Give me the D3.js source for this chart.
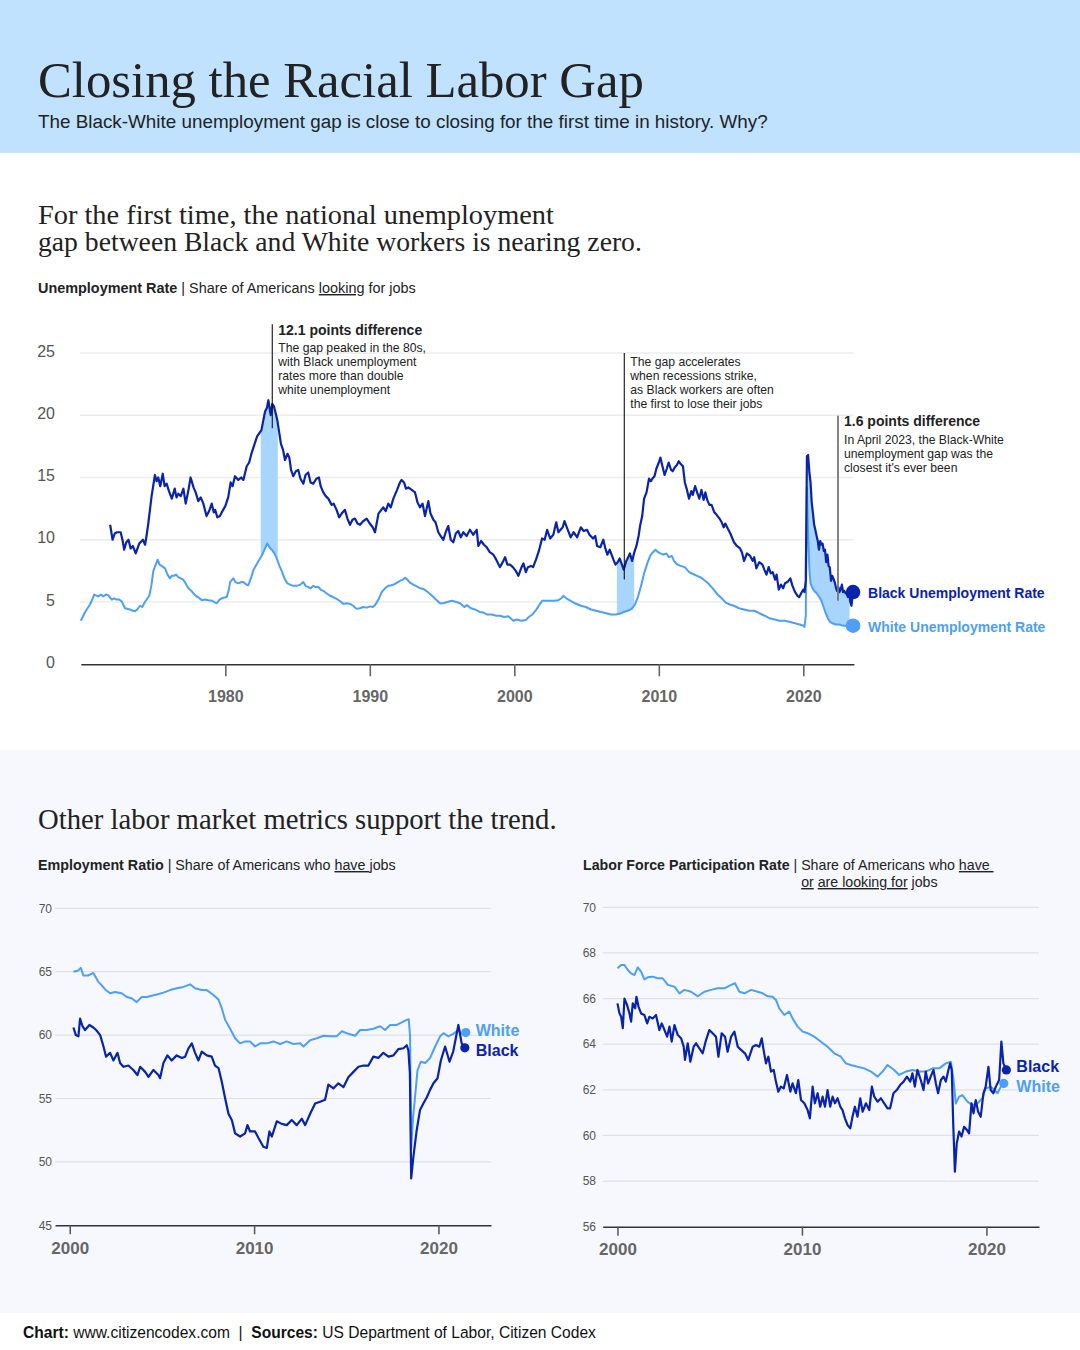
<!DOCTYPE html>
<html>
<head>
<meta charset="utf-8">
<script src="https://cdn.jsdelivr.net/npm/d3@7"></script>
<style>
  body { margin: 0; background: #fff; }
  svg { display: block; font-family: "Liberation Sans", Arial, sans-serif; }
</style>
</head>
<body>
<div id="chart"></div>
<script>
// ---- data ----
// [decimal year, rate]
var blackUnemp = [[1972.03,11.2],[1972.2,10.0],[1972.35,10.5],[1972.5,10.6],[1972.76,10.6],[1972.9,9.9],[1973.0,9.2],[1973.15,9.8],[1973.3,10.0],[1973.45,9.3],[1973.6,9.5],[1973.8,8.9],[1974.05,9.7],[1974.3,10.0],[1974.45,9.6],[1974.56,10.4],[1974.67,11.3],[1974.9,13.5],[1975.13,15.2],[1975.25,14.7],[1975.36,15.0],[1975.5,14.3],[1975.67,15.3],[1975.8,14.3],[1975.94,14.5],[1976.1,13.9],[1976.3,13.3],[1976.5,14.1],[1976.62,13.4],[1976.75,13.7],[1976.92,13.5],[1977.1,14.1],[1977.26,12.9],[1977.45,14.0],[1977.6,15.0],[1977.8,14.2],[1977.95,13.8],[1978.13,13.1],[1978.3,13.4],[1978.48,12.9],[1978.7,11.9],[1978.88,12.3],[1979.06,12.9],[1979.2,12.2],[1979.3,12.4],[1979.45,11.8],[1979.63,11.9],[1979.8,12.3],[1980.0,12.7],[1980.2,13.4],[1980.37,14.6],[1980.5,14.3],[1980.67,15.1],[1980.9,14.8],[1981.1,15.0],[1981.25,14.8],[1981.48,15.9],[1981.65,16.2],[1981.83,17.0],[1982.0,17.6],[1982.2,18.3],[1982.5,18.8],[1982.6,19.4],[1982.75,20.3],[1982.88,20.6],[1982.98,21.2],[1983.14,20.0],[1983.25,20.9],[1983.37,20.7],[1983.5,20.1],[1983.6,19.6],[1983.85,17.7],[1984.0,17.2],[1984.13,16.4],[1984.3,16.9],[1984.43,16.6],[1984.55,15.6],[1984.7,15.1],[1984.88,15.5],[1985.05,15.6],[1985.2,14.9],[1985.4,14.5],[1985.55,15.2],[1985.74,15.4],[1985.9,14.6],[1986.09,14.5],[1986.3,14.9],[1986.48,15.0],[1986.6,14.3],[1986.78,13.8],[1986.95,13.5],[1987.13,13.3],[1987.36,12.8],[1987.5,12.9],[1987.7,12.4],[1987.88,11.8],[1988.05,12.1],[1988.28,12.4],[1988.45,11.7],[1988.63,11.2],[1988.8,11.6],[1988.97,11.7],[1989.15,11.3],[1989.32,11.2],[1989.55,11.5],[1989.78,11.7],[1990.0,11.3],[1990.2,11.0],[1990.36,10.6],[1990.6,12.1],[1990.93,12.6],[1991.1,12.3],[1991.28,12.9],[1991.45,12.6],[1991.63,13.3],[1991.85,13.9],[1992.09,14.6],[1992.2,14.8],[1992.37,14.6],[1992.5,14.1],[1992.66,14.2],[1992.9,14.0],[1993.13,13.8],[1993.3,13.0],[1993.47,12.6],[1993.65,12.9],[1993.82,11.9],[1994.05,13.1],[1994.2,12.1],[1994.4,11.6],[1994.55,11.4],[1994.74,10.6],[1994.9,10.3],[1995.09,10.0],[1995.25,10.6],[1995.43,11.1],[1995.6,10.0],[1995.78,9.8],[1995.95,10.5],[1996.12,10.7],[1996.3,10.2],[1996.47,10.6],[1996.7,10.3],[1996.93,10.8],[1997.15,10.4],[1997.4,10.8],[1997.51,9.5],[1997.7,9.9],[1997.9,9.6],[1998.09,9.4],[1998.3,9.0],[1998.55,8.8],[1998.75,8.4],[1999.0,7.8],[1999.2,8.2],[1999.36,8.6],[1999.52,8.0],[1999.7,8.0],[1999.9,7.8],[2000.1,7.5],[2000.28,7.1],[2000.5,7.8],[2000.63,8.1],[2000.8,7.4],[2000.94,7.8],[2001.15,7.9],[2001.3,7.8],[2001.5,8.4],[2001.7,9.1],[2001.92,10.1],[2002.1,10.0],[2002.27,10.8],[2002.48,10.1],[2002.7,10.4],[2002.9,11.4],[2003.05,10.6],[2003.2,10.8],[2003.35,11.0],[2003.47,11.5],[2003.7,10.8],[2003.9,10.2],[2004.1,10.6],[2004.35,10.2],[2004.6,11.0],[2004.8,10.7],[2005.03,10.8],[2005.2,10.4],[2005.45,10.1],[2005.6,10.3],[2005.73,9.5],[2005.95,9.4],[2006.16,10.0],[2006.3,9.3],[2006.44,8.8],[2006.6,9.2],[2006.86,8.4],[2007.0,8.0],[2007.15,8.2],[2007.29,8.5],[2007.45,8.0],[2007.57,7.6],[2007.75,8.3],[2007.88,8.6],[2008.0,8.9],[2008.15,8.3],[2008.28,8.9],[2008.45,9.5],[2008.6,10.3],[2008.7,11.1],[2008.85,11.9],[2008.98,13.3],[2009.15,13.8],[2009.32,14.9],[2009.45,14.7],[2009.55,14.9],[2009.7,15.1],[2009.83,15.7],[2010.0,16.2],[2010.11,16.6],[2010.25,15.9],[2010.4,15.2],[2010.55,15.7],[2010.68,16.2],[2010.85,15.6],[2010.96,15.5],[2011.1,15.8],[2011.25,16.0],[2011.38,16.3],[2011.5,16.1],[2011.67,15.9],[2011.8,14.6],[2011.95,14.0],[2012.09,13.3],[2012.25,13.9],[2012.35,13.6],[2012.51,14.3],[2012.65,13.8],[2012.8,13.3],[2012.95,14.0],[2013.1,13.2],[2013.22,13.8],[2013.35,13.2],[2013.5,12.8],[2013.65,12.8],[2013.84,12.2],[2014.0,12.0],[2014.2,11.7],[2014.35,11.4],[2014.49,11.0],[2014.6,11.3],[2014.77,10.9],[2014.95,10.5],[2015.2,9.8],[2015.4,9.5],[2015.62,9.3],[2015.75,9.0],[2015.9,8.3],[2016.1,8.9],[2016.32,8.7],[2016.5,8.3],[2016.6,8.6],[2016.75,7.7],[2016.95,8.2],[2017.17,8.0],[2017.3,7.6],[2017.45,7.2],[2017.6,7.8],[2017.75,7.3],[2017.88,7.4],[2018.05,6.8],[2018.15,7.2],[2018.3,6.0],[2018.45,6.4],[2018.6,6.1],[2018.73,6.5],[2018.9,6.6],[2019.1,6.9],[2019.25,6.3],[2019.43,5.8],[2019.6,5.5],[2019.72,5.4],[2019.85,5.7],[2020.0,6.0],[2020.08,5.8],[2020.17,6.7],[2020.25,16.7],[2020.33,16.8],[2020.42,15.4],[2020.5,14.6],[2020.58,13.0],[2020.67,12.1],[2020.75,11.2],[2020.83,10.8],[2020.92,10.3],[2021.0,9.9],[2021.08,9.2],[2021.17,9.9],[2021.25,9.6],[2021.33,9.7],[2021.42,9.1],[2021.5,9.2],[2021.58,8.2],[2021.67,8.8],[2021.75,7.9],[2021.83,7.8],[2021.92,6.7],[2022.0,7.1],[2022.08,6.9],[2022.17,6.6],[2022.25,6.2],[2022.33,5.9],[2022.42,6.2],[2022.5,5.8],[2022.58,6.0],[2022.67,6.4],[2022.75,5.8],[2022.83,5.9],[2022.92,5.7],[2023.0,5.7],[2023.08,5.4],[2023.17,5.7],[2023.25,5.0],[2023.33,4.7],[2023.44,5.8]];

var whiteUnemp = [[1970.0,3.5],[1970.3,4.2],[1970.64,4.8],[1970.93,5.6],[1971.2,5.45],[1971.4,5.6],[1971.56,5.45],[1971.75,5.6],[1971.9,5.55],[1972.14,5.2],[1972.3,5.3],[1972.48,5.2],[1972.65,5.2],[1972.83,5.05],[1973.06,4.5],[1973.4,4.4],[1973.6,4.3],[1973.75,4.25],[1973.9,4.4],[1974.1,4.7],[1974.25,4.6],[1974.44,5.0],[1974.74,5.5],[1974.88,6.3],[1975.02,7.5],[1975.15,7.9],[1975.32,8.4],[1975.45,8.0],[1975.6,7.9],[1975.83,7.7],[1976.0,7.2],[1976.17,6.9],[1976.3,7.1],[1976.45,7.1],[1976.6,7.2],[1976.75,7.0],[1977.09,6.8],[1977.25,6.5],[1977.44,6.1],[1977.65,5.9],[1977.9,5.55],[1978.1,5.4],[1978.37,5.15],[1978.6,5.2],[1978.83,5.15],[1979.1,5.1],[1979.4,4.9],[1979.6,5.2],[1979.75,5.3],[1980.1,5.4],[1980.25,6.0],[1980.33,6.6],[1980.55,6.9],[1980.7,6.6],[1980.9,6.5],[1981.1,6.6],[1981.25,6.6],[1981.45,6.4],[1981.59,6.35],[1981.8,7.0],[1981.94,7.55],[1982.2,8.1],[1982.4,8.5],[1982.6,8.9],[1982.75,9.3],[1982.9,9.7],[1983.05,9.4],[1983.21,9.2],[1983.4,8.9],[1983.56,8.5],[1983.75,7.9],[1983.9,7.5],[1984.13,6.8],[1984.3,6.5],[1984.48,6.4],[1984.7,6.3],[1984.94,6.3],[1985.2,6.4],[1985.4,6.6],[1985.55,6.3],[1985.74,6.2],[1985.9,6.1],[1986.09,6.3],[1986.25,6.2],[1986.43,6.2],[1986.6,6.0],[1986.78,5.9],[1987.0,5.7],[1987.24,5.5],[1987.45,5.4],[1987.7,5.25],[1987.9,5.1],[1988.17,4.85],[1988.4,4.9],[1988.63,4.85],[1988.85,4.7],[1989.09,4.45],[1989.3,4.5],[1989.55,4.6],[1989.8,4.55],[1990.01,4.65],[1990.2,4.6],[1990.36,4.75],[1990.6,5.2],[1990.82,5.8],[1991.05,6.1],[1991.28,6.3],[1991.5,6.35],[1991.74,6.45],[1992.09,6.7],[1992.3,6.8],[1992.44,6.95],[1992.6,6.8],[1992.78,6.55],[1993.0,6.4],[1993.25,6.25],[1993.5,6.1],[1993.7,6.05],[1993.9,5.9],[1994.17,5.65],[1994.4,5.4],[1994.63,5.15],[1994.86,4.9],[1995.09,4.9],[1995.35,5.0],[1995.67,5.1],[1995.99,5.0],[1996.24,4.9],[1996.55,4.6],[1996.71,4.75],[1997.0,4.5],[1997.28,4.4],[1997.6,4.2],[1997.86,4.15],[1998.1,4.0],[1998.43,4.0],[1998.75,3.9],[1999.01,3.9],[1999.3,3.8],[1999.59,3.85],[1999.94,3.5],[2000.17,3.6],[2000.5,3.5],[2000.79,3.55],[2001.0,3.8],[2001.25,4.0],[2001.5,4.35],[2001.75,4.8],[2001.92,5.1],[2002.2,5.1],[2002.48,5.1],[2002.75,5.1],[2003.05,5.15],[2003.25,5.3],[2003.39,5.5],[2003.6,5.3],[2003.9,5.1],[2004.2,4.9],[2004.6,4.7],[2004.95,4.6],[2005.31,4.4],[2005.65,4.3],[2006.01,4.2],[2006.35,4.1],[2006.72,4.0],[2007.0,4.0],[2007.29,4.05],[2007.57,4.2],[2007.85,4.3],[2008.13,4.45],[2008.35,4.8],[2008.55,5.4],[2008.75,6.2],[2008.98,7.3],[2009.2,8.1],[2009.4,8.7],[2009.6,9.0],[2009.77,9.2],[2009.95,9.0],[2010.11,8.9],[2010.3,8.8],[2010.53,8.9],[2010.7,8.6],[2010.9,8.7],[2011.05,8.3],[2011.24,8.05],[2011.5,7.9],[2011.8,7.8],[2012.1,7.4],[2012.37,7.25],[2012.65,7.1],[2012.94,6.95],[2013.2,6.7],[2013.5,6.4],[2013.8,6.0],[2014.07,5.6],[2014.35,5.3],[2014.63,4.95],[2014.9,4.8],[2015.2,4.7],[2015.55,4.5],[2015.9,4.4],[2016.25,4.3],[2016.61,4.3],[2016.95,4.1],[2017.32,3.9],[2017.65,3.7],[2018.02,3.6],[2018.35,3.5],[2018.73,3.5],[2019.1,3.4],[2019.43,3.3],[2019.75,3.2],[2020.0,3.1],[2020.08,3.0],[2020.17,3.9],[2020.25,14.2],[2020.33,10.5],[2020.42,7.6],[2020.5,6.5],[2020.6,6.2],[2020.75,5.9],[2020.92,5.7],[2021.1,5.4],[2021.25,5.1],[2021.4,4.6],[2021.55,4.1],[2021.7,3.7],[2021.85,3.4],[2022.0,3.3],[2022.25,3.2],[2022.5,3.2],[2022.75,3.1],[2023.0,3.1],[2023.2,3.2],[2023.44,3.1]];

var gapPeriods = [[1982.45, 1983.63], [2007.1, 2008.3], [2020.3, 2023.2]];
var unempYTicks = [0, 5, 10, 15, 20, 25];
var unempXTicks = [1980, 1990, 2000, 2010, 2020];

var whiteEmp = [[2000.2,65.0],[2000.47,65.1],[2000.6,65.3],[2000.74,64.7],[2001.0,64.7],[2001.28,64.9],[2001.55,64.2],[2001.75,63.9],[2001.92,63.6],[2002.19,63.3],[2002.46,63.4],[2002.82,63.3],[2003.1,63.0],[2003.36,62.9],[2003.63,62.6],[2003.9,63.0],[2004.18,63.0],[2004.45,63.1],[2004.72,63.2],[2005.08,63.35],[2005.44,63.55],[2005.8,63.7],[2006.17,63.8],[2006.53,64.0],[2006.8,63.7],[2007.16,63.55],[2007.43,63.55],[2007.76,63.2],[2008.07,62.8],[2008.25,62.1],[2008.43,61.2],[2008.7,60.5],[2008.97,59.75],[2009.24,59.35],[2009.51,59.5],[2009.78,59.5],[2010.05,59.1],[2010.33,59.35],[2010.69,59.35],[2011.05,59.5],[2011.41,59.3],[2011.77,59.5],[2012.13,59.3],[2012.5,59.35],[2012.68,59.1],[2013.04,59.6],[2013.4,59.75],[2013.76,59.95],[2014.12,59.9],[2014.48,59.9],[2014.76,60.3],[2015.12,60.1],[2015.48,59.95],[2015.75,60.4],[2016.11,60.4],[2016.47,60.5],[2016.84,60.7],[2017.1,60.4],[2017.38,60.8],[2017.74,60.8],[2018.01,61.0],[2018.28,61.2],[2018.39,61.25],[2018.46,59.9],[2018.52,51.0],[2018.62,53.5],[2018.73,55.1],[2018.86,57.2],[2019.04,57.9],[2019.28,57.8],[2019.55,58.2],[2019.82,59.1],[2020.09,59.9],[2020.27,60.15],[2020.54,59.9],[2020.8,60.1],[2021.08,60.4],[2021.26,60.1],[2021.48,60.2]];

var blackEmp = [[2000.2,60.6],[2000.33,60.0],[2000.47,59.9],[2000.56,61.3],[2000.69,60.7],[2000.83,60.4],[2001.07,60.8],[2001.28,60.6],[2001.43,60.4],[2001.65,60.0],[2001.83,59.1],[2001.97,58.3],[2002.19,58.6],[2002.37,58.0],[2002.59,58.6],[2002.73,57.8],[2002.91,57.5],[2003.18,57.6],[2003.45,57.25],[2003.67,56.85],[2003.82,57.5],[2004.09,57.1],[2004.27,56.7],[2004.54,57.25],[2004.81,56.85],[2004.9,56.6],[2005.08,57.8],[2005.3,58.4],[2005.53,58.0],[2005.8,58.4],[2006.08,58.2],[2006.26,58.3],[2006.44,58.96],[2006.62,59.35],[2006.8,58.6],[2006.98,58.0],[2007.16,58.7],[2007.43,58.4],[2007.7,58.3],[2007.88,57.6],[2008.07,57.4],[2008.25,56.3],[2008.43,55.0],[2008.61,53.8],[2008.79,53.3],[2008.97,52.25],[2009.24,52.0],[2009.51,52.25],[2009.64,52.9],[2009.78,52.4],[2010.05,52.4],[2010.23,51.9],[2010.5,51.2],[2010.69,51.1],[2010.83,52.4],[2010.96,52.0],[2011.23,53.2],[2011.5,53.0],[2011.77,52.9],[2012.04,53.3],[2012.31,52.9],[2012.59,53.4],[2012.77,52.9],[2013.04,53.8],[2013.31,54.6],[2013.58,54.75],[2013.85,54.9],[2014.03,56.1],[2014.3,55.8],[2014.57,56.2],[2014.85,55.9],[2015.12,56.7],[2015.39,57.1],[2015.66,57.5],[2015.93,57.6],[2016.2,57.6],[2016.47,58.3],[2016.74,58.2],[2017.01,58.6],[2017.29,58.3],[2017.56,58.4],[2017.83,58.9],[2018.1,58.96],[2018.28,59.2],[2018.37,58.8],[2018.45,57.0],[2018.52,48.7],[2018.64,50.4],[2018.82,52.5],[2019.0,54.1],[2019.18,54.6],[2019.37,55.1],[2019.55,55.7],[2019.73,56.2],[2019.95,56.6],[2020.13,58.0],[2020.36,59.1],[2020.6,57.9],[2020.8,58.7],[2021.08,60.8],[2021.26,59.35],[2021.43,59.0]];
var empYTicks = [45, 50, 55, 60, 65, 70];

var whiteLfp = [[2000.0,67.33],[2000.2,67.47],[2000.38,67.47],[2000.56,67.25],[2000.74,67.1],[2000.92,67.03],[2001.1,67.37],[2001.28,67.18],[2001.46,66.84],[2001.64,66.93],[2001.91,66.96],[2002.18,66.89],[2002.45,66.89],[2002.73,66.6],[2003.09,66.52],[2003.36,66.23],[2003.63,66.38],[2003.99,66.3],[2004.35,66.1],[2004.71,66.3],[2005.07,66.38],[2005.43,66.45],[2005.79,66.45],[2006.16,66.6],[2006.37,66.67],[2006.61,66.3],[2006.88,66.23],[2007.24,66.38],[2007.6,66.3],[2007.87,66.23],[2008.14,66.1],[2008.41,66.08],[2008.59,65.94],[2008.77,65.57],[2009.04,65.28],[2009.31,65.43],[2009.49,65.13],[2009.77,64.77],[2010.04,64.55],[2010.31,64.48],[2010.67,64.33],[2011.03,64.11],[2011.39,63.89],[2011.75,63.6],[2012.11,63.45],[2012.38,63.16],[2012.65,63.09],[2013.01,63.01],[2013.38,62.94],[2013.74,62.8],[2014.1,62.58],[2014.37,62.8],[2014.64,63.09],[2015.0,62.87],[2015.27,62.65],[2015.63,62.8],[2015.99,62.87],[2016.35,62.8],[2016.71,62.8],[2017.08,62.94],[2017.44,62.94],[2017.8,63.16],[2018.07,63.23],[2018.2,62.58],[2018.34,61.4],[2018.52,61.7],[2018.7,61.77],[2018.97,61.48],[2019.24,61.33],[2019.51,61.4],[2019.78,61.63],[2019.96,62.06],[2020.23,62.14],[2020.42,61.99],[2020.6,61.85],[2020.78,62.14],[2020.94,62.28]];

var blackLfp = [[2000.0,65.79],[2000.11,65.35],[2000.2,65.2],[2000.29,64.7],[2000.38,66.0],[2000.52,65.72],[2000.65,65.35],[2000.74,64.99],[2000.83,65.79],[2000.96,65.57],[2001.03,66.08],[2001.14,65.65],[2001.28,65.35],[2001.46,65.28],[2001.61,64.91],[2001.73,65.2],[2001.91,65.13],[2002.09,65.28],[2002.27,64.62],[2002.4,64.91],[2002.55,64.62],[2002.69,64.33],[2002.82,64.77],[2002.94,64.11],[2003.09,64.84],[2003.27,64.4],[2003.45,64.26],[2003.59,63.89],[2003.66,63.31],[2003.81,64.04],[2003.95,63.23],[2004.13,63.89],[2004.26,64.04],[2004.44,63.82],[2004.62,63.6],[2004.8,64.18],[2004.98,64.62],[2005.16,64.48],[2005.34,64.33],[2005.47,63.45],[2005.65,64.48],[2005.83,64.33],[2005.97,63.67],[2006.16,64.33],[2006.34,64.55],[2006.52,63.89],[2006.7,63.75],[2006.91,63.6],[2007.09,63.31],[2007.33,63.89],[2007.51,63.96],[2007.69,63.89],[2007.82,64.26],[2007.92,63.75],[2008.05,63.16],[2008.18,63.45],[2008.32,62.8],[2008.47,62.87],[2008.59,62.36],[2008.72,61.92],[2008.86,62.14],[2009.01,62.06],[2009.19,62.65],[2009.37,61.92],[2009.49,62.28],[2009.67,61.85],[2009.8,62.43],[2009.95,61.55],[2010.13,61.41],[2010.31,61.11],[2010.43,60.75],[2010.58,62.14],[2010.7,61.41],[2010.85,61.85],[2010.99,61.26],[2011.12,61.7],[2011.25,61.26],[2011.39,61.99],[2011.53,61.26],[2011.66,61.7],[2011.79,61.41],[2011.93,61.63],[2012.08,61.26],[2012.2,61.11],[2012.33,60.75],[2012.47,60.46],[2012.62,60.31],[2012.74,60.82],[2012.87,61.26],[2013.01,60.82],[2013.16,61.63],[2013.29,61.04],[2013.47,61.41],[2013.65,61.11],[2013.79,62.14],[2013.92,61.7],[2014.1,61.48],[2014.28,61.63],[2014.46,61.41],[2014.64,61.19],[2014.78,61.19],[2014.96,61.85],[2015.14,61.99],[2015.32,62.21],[2015.51,62.36],[2015.69,62.58],[2015.87,62.36],[2015.99,62.72],[2016.12,62.14],[2016.26,62.87],[2016.44,62.43],[2016.59,61.99],[2016.71,62.8],[2016.84,62.28],[2016.98,62.58],[2017.13,62.87],[2017.26,62.28],[2017.38,61.85],[2017.53,62.43],[2017.67,62.58],[2017.8,62.36],[2017.92,62.8],[2018.03,63.16],[2018.12,62.87],[2018.2,60.53],[2018.29,58.41],[2018.39,59.65],[2018.52,60.17],[2018.65,59.95],[2018.79,60.38],[2018.94,60.24],[2019.06,60.09],[2019.19,61.41],[2019.3,60.97],[2019.42,61.55],[2019.55,61.04],[2019.69,60.82],[2019.84,61.85],[2019.96,62.14],[2020.11,63.01],[2020.23,61.99],[2020.38,61.85],[2020.51,62.14],[2020.69,62.43],[2020.81,64.11],[2020.92,63.16],[2021.08,62.87]];
var lfpYTicks = [56, 58, 60, 62, 64, 66, 68, 70];
var smallXTicks = [2000, 2010, 2020];

var notes = [
  { t: 1983.25, top: 27.3, bottom: 18.95, title: "12.1 points difference",
    lines: ["The gap peaked in the 80s,", "with Black unemployment", "rates more than double", "white unemployment"] },
  { t: 2007.61, top: 25.0, bottom: 6.8, title: null,
    lines: ["The gap accelerates", "when recessions strike,", "as Black workers are often", "the first to lose their jobs"] },
  { t: 2022.4, top: 19.95, bottom: 5.1, title: "1.6 points difference", grey: true,
    lines: ["In April 2023, the Black-White", "unemployment gap was the", "closest it's ever been"] }
];

var dark = "#0a23ad", light = "#4d9ffa", bandFill = "#a8d5fd", ink = "#222";

// shrink/grow a text (or tspan) so it spans the given width
function fit(sel, w) {
  var fs = parseFloat(sel.attr("font-size"));
  var len = sel.node().getComputedTextLength();
  sel.attr("font-size", fs * w / len);
}

var svg = d3.select("#chart").append("svg")
    .attr("width", 1080)
    .attr("height", 1350);

// backgrounds
svg.append("rect").attr("width", 1080).attr("height", 153).attr("fill", "#c0e2fe");
svg.append("rect").attr("y", 750).attr("width", 1080).attr("height", 563).attr("fill", "#f6f8fe");

// header
var title = svg.append("text").attr("x", 38).attr("y", 97)
    .attr("font-family", "'Liberation Serif', serif").attr("font-size", 50)
    .attr("fill", ink).text("Closing the Racial Labor Gap");
fit(title, 606);
var sub = svg.append("text").attr("x", 38).attr("y", 128)
    .attr("font-size", 17).attr("fill", ink)
    .text("The Black-White unemployment gap is close to closing for the first time in history. Why?");
fit(sub, 730);

// two-line heading kept in one text element
var h1 = svg.append("text")
    .attr("font-family", "'Liberation Serif', serif").attr("fill", ink);
var h1a = h1.append("tspan").attr("x", 38).attr("y", 224).attr("font-size", 26)
    .text("For the first time, the national unemployment");
var h1b = h1.append("tspan").attr("x", 38).attr("y", 251).attr("font-size", 26)
    .text("gap between Black and White workers is nearing zero.");
fit(h1b, 604);
fit(h1a, 516);

var t1 = svg.append("text").attr("x", 38).attr("y", 293).attr("font-size", 14).attr("fill", ink)
    .style("white-space", "pre");
t1.append("tspan").attr("font-weight", "bold").text("Unemployment Rate");
t1.append("tspan").text(" | Share of Americans ");
t1.append("tspan").attr("text-decoration", "underline").text("looking");
t1.append("tspan").text(" for jobs");
fit(t1, 378);

// ---- main chart ----
var x = d3.scaleLinear().domain([1970, 2023.5]).range([80.8, 853.9]);
var y = d3.scaleLinear().domain([0, 25]).range([664.3, 352.9]);

var main = svg.append("g");

main.selectAll(".grid")
    .data(unempYTicks.filter(function(d) { return d > 0; }))
    .enter().append("line")
    .attr("class", "grid")
    .attr("x1", 80).attr("x2", 853.3)
    .attr("y1", function(d) { return y(d); })
    .attr("y2", function(d) { return y(d); })
    .attr("stroke", "#ececec").attr("stroke-width", 1.5);

// shaded gaps between the two lines
var defs = svg.append("defs");
gapPeriods.forEach(function(p, i) {
  defs.append("clipPath").attr("id", "gap" + i).append("rect")
      .attr("x", x(p[0])).attr("width", x(p[1]) - x(p[0]))
      .attr("y", 0).attr("height", 1350);
});
var line = d3.line().x(function(d) { return x(d[0]); }).y(function(d) { return y(d[1]); });
var between = line(blackUnemp) + line(whiteUnemp.slice().reverse()).replace("M", "L") + "Z";
gapPeriods.forEach(function(p, i) {
  main.append("path").attr("d", between).attr("fill", bandFill)
      .attr("clip-path", "url(#gap" + i + ")");
});

// x axis
var xAxis = main.append("g")
    .attr("transform", "translate(0," + y(0) + ")")
    .call(d3.axisBottom(x).tickValues(unempXTicks).tickFormat(d3.format("d")).tickSize(12).tickSizeOuter(0));
xAxis.select(".domain").attr("stroke", "#333").attr("stroke-width", 1.5);
xAxis.selectAll(".tick line").attr("stroke", "#666").attr("stroke-width", 1.6);
xAxis.selectAll(".tick text").attr("y", 26).attr("font-size", 16).attr("font-weight", "bold")
    .attr("font-family", "'Liberation Sans', Arial, sans-serif").attr("fill", "#666");

// y labels
var yAxis = main.append("g")
    .attr("transform", "translate(55,-2)")
    .call(d3.axisLeft(y).tickValues(unempYTicks).tickSize(0).tickPadding(0));
yAxis.select(".domain").remove();
yAxis.selectAll(".tick text").attr("font-size", 16)
    .attr("font-family", "'Liberation Sans', Arial, sans-serif").attr("fill", "#555");

main.append("path").attr("d", line(whiteUnemp)).attr("fill", "none")
    .attr("stroke", light).attr("stroke-width", 2).attr("stroke-linejoin", "round");
main.append("path").attr("d", line(blackUnemp)).attr("fill", "none")
    .attr("stroke", dark).attr("stroke-width", 2.2).attr("stroke-linejoin", "round");

// annotations
notes.forEach(function(n) {
  var nx = x(n.t);
  main.append("line").attr("x1", nx).attr("x2", nx)
      .attr("y1", y(n.top)).attr("y2", y(n.bottom))
      .attr("stroke", n.grey ? "#777" : "#111").attr("stroke-width", n.grey ? 1.8 : 1.1);
  var by = y(n.top) + 13.5;
  if (n.title) {
    main.append("text").attr("x", nx + 6).attr("y", y(n.top) + 10.5)
        .attr("font-size", 14).attr("font-weight", "bold").attr("fill", ink).text(n.title);
    by = y(n.top) + 28;
  }
  n.lines.forEach(function(s, i) {
    main.append("text").attr("x", nx + 6).attr("y", by + i * 14)
        .attr("font-size", 12.2).attr("fill", ink).text(s);
  });
});

// end dots + labels
[[blackUnemp, dark, "Black Unemployment Rate"], [whiteUnemp, light, "White Unemployment Rate"]].forEach(function(s) {
  var last = s[0][s[0].length - 1];
  main.append("circle").attr("cx", x(last[0])).attr("cy", y(last[1])).attr("r", 7.3).attr("fill", s[1]);
  main.append("text").attr("x", x(last[0]) + 15).attr("y", y(last[1]) + 6)
      .attr("font-size", 14).attr("font-weight", "bold").attr("fill", s[1]).text(s[2]);
});

// ---- second section ----
var h2 = svg.append("text").attr("x", 38).attr("y", 829)
    .attr("font-family", "'Liberation Serif', serif").attr("font-size", 26).attr("fill", ink)
    .text("Other labor market metrics support the trend.");
fit(h2, 519);

var t2 = svg.append("text").attr("x", 38).attr("y", 870).attr("font-size", 14).attr("fill", ink)
    .style("white-space", "pre");
t2.append("tspan").attr("font-weight", "bold").text("Employment Ratio");
t2.append("tspan").text(" | Share of Americans who ");
t2.append("tspan").attr("text-decoration", "underline").text("have ");
t2.append("tspan").text("jobs");
fit(t2, 358);

var t3 = svg.append("text").attr("x", 583).attr("y", 870).attr("font-size", 14).attr("fill", ink)
    .style("white-space", "pre");
t3.append("tspan").attr("font-weight", "bold").text("Labor Force Participation Rate");
t3.append("tspan").text(" | Share of Americans who ");
t3.append("tspan").attr("text-decoration", "underline").text("have ");
fit(t3, 411);
var shareX = t3.node().getStartPositionOfChar(33).x;
var t3b = svg.append("text").attr("x", shareX).attr("y", 887).attr("font-size", t3.attr("font-size"))
    .attr("fill", ink).style("white-space", "pre");
t3b.append("tspan").attr("text-decoration", "underline").text("or");
t3b.append("tspan").text(" ");
t3b.append("tspan").attr("text-decoration", "underline").text("are looking for");
t3b.append("tspan").text(" jobs");

function smallChart(o) {
  var xs = d3.scaleLinear().domain([1999.2, 2022.85]).range([o.left, o.right]);
  var ys = d3.scaleLinear().domain(o.yDomain).range([o.bottom, o.top]);
  var g = svg.append("g");

  g.selectAll(".grid").data(o.yTicks.slice(1)).enter().append("line")
      .attr("x1", o.left).attr("x2", o.right)
      .attr("y1", function(d) { return ys(d); })
      .attr("y2", function(d) { return ys(d); })
      .attr("stroke", "#dfe0e5").attr("stroke-width", 1.2);

  g.selectAll(".ylab").data(o.yTicks).enter().append("text")
      .attr("x", o.labelX).attr("y", function(d) { return ys(d); })
      .attr("dy", "0.35em").attr("text-anchor", "end")
      .attr("font-size", 12).attr("fill", "#555")
      .text(function(d) { return d; });

  var ax = g.append("g").attr("transform", "translate(0," + o.bottom + ")")
      .call(d3.axisBottom(xs).tickValues(smallXTicks).tickFormat(d3.format("d")).tickSize(9).tickSizeOuter(0));
  ax.select(".domain").attr("stroke", "#333").attr("stroke-width", 1.5);
  ax.selectAll(".tick line").attr("stroke", "#555").attr("stroke-width", 1.5);
  ax.selectAll(".tick text").attr("y", 16.6).attr("font-size", 17).attr("font-weight", "bold")
      .attr("font-family", "'Liberation Sans', Arial, sans-serif").attr("fill", "#666");

  var ln = d3.line().x(function(d) { return xs(d[0]); }).y(function(d) { return ys(d[1]); });
  o.series.forEach(function(s) {
    g.append("path").attr("d", ln(s.data)).attr("fill", "none")
        .attr("stroke", s.color).attr("stroke-width", s.width).attr("stroke-linejoin", "round");
  });

  // dots, labels spread around the midpoint of the two dots
  var ends = o.series.map(function(s) {
    var last = s.data[s.data.length - 1];
    return { s: s, cx: xs(last[0]), cy: ys(last[1]) };
  });
  ends.forEach(function(e) {
    g.append("circle").attr("cx", e.cx).attr("cy", e.cy).attr("r", 4.6).attr("fill", e.s.color);
  });
  ends.sort(function(a, b) { return a.cy - b.cy; });
  var mid = (ends[0].cy + ends[1].cy) / 2;
  var lx = d3.max(ends, function(e) { return e.cx; }) + 10;
  ends.forEach(function(e, i) {
    g.append("text").attr("x", lx).attr("y", mid + (i === 0 ? -10 : 10) + 5.7)
        .attr("font-size", 16).attr("font-weight", "bold").attr("fill", e.s.color).text(e.s.name);
  });
}

smallChart({
  left: 55, right: 491, top: 908.3, bottom: 1225.3, labelX: 52,
  yDomain: [45, 70], yTicks: empYTicks,
  series: [
    { name: "White", data: whiteEmp, color: light, width: 2 },
    { name: "Black", data: blackEmp, color: dark, width: 2.2 }
  ]
});

smallChart({
  left: 602.7, right: 1039, top: 907.3, bottom: 1226.7, labelX: 596,
  yDomain: [56, 70], yTicks: lfpYTicks,
  series: [
    { name: "White", data: whiteLfp, color: light, width: 2 },
    { name: "Black", data: blackLfp, color: dark, width: 2.2 }
  ]
});

// footer
var foot = svg.append("text").attr("x", 23).attr("y", 1337.5).attr("font-size", 16)
    .attr("fill", "#111").style("white-space", "pre");
foot.append("tspan").attr("font-weight", "bold").text("Chart:");
foot.append("tspan").text(" www.citizencodex.com  |  ");
foot.append("tspan").attr("font-weight", "bold").text("Sources:");
foot.append("tspan").text(" US Department of Labor, Citizen Codex");
fit(foot, 573);
</script>
</body>
</html>
